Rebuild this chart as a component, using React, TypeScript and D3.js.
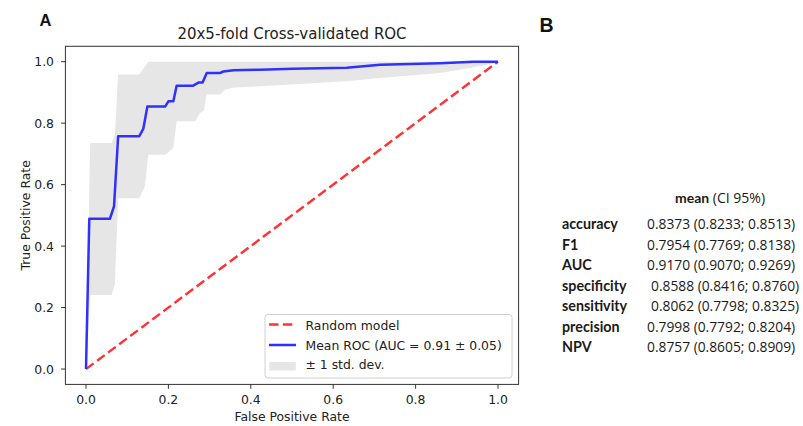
import React from "react";
import * as d3 from "d3";

// ---------- data ----------
const meanFpr = [0, 0.008, 0.058, 0.068, 0.078, 0.129, 0.139, 0.149, 0.192, 0.2, 0.212, 0.22, 0.26, 0.273, 0.283, 0.293, 0.325, 0.333, 0.358, 0.422, 0.503, 0.633, 0.714, 0.859, 0.94, 1.0];
const meanTpr = [0, 0.489, 0.489, 0.529, 0.757, 0.757, 0.781, 0.854, 0.854, 0.871, 0.871, 0.922, 0.922, 0.932, 0.932, 0.963, 0.963, 0.968, 0.972, 0.974, 0.977, 0.98, 0.99, 0.995, 1.0, 1.0];

const upperFpr = [0, 0.01, 0.062, 0.07, 0.078, 0.129, 0.151, 1.0];
const upperTpr = [0, 0.735, 0.735, 0.76, 0.958, 0.958, 1.0, 1.0];

const lowerFpr = [0, 0.01, 0.062, 0.07, 0.078, 0.129, 0.143, 0.151, 0.192, 0.212, 0.22, 0.265, 0.277, 0.286, 0.293, 0.325, 0.337, 0.358, 0.422, 0.633, 0.714, 0.859, 0.932, 0.989, 1.0];
const lowerTpr = [0, 0.241, 0.241, 0.274, 0.556, 0.556, 0.594, 0.697, 0.697, 0.719, 0.806, 0.806, 0.833, 0.84, 0.893, 0.893, 0.909, 0.916, 0.92, 0.936, 0.947, 0.963, 0.979, 0.995, 1.0];

const tickValues = [0, 0.2, 0.4, 0.6, 0.8, 1.0];

const chartTitle = "20x5-fold Cross-validated ROC";
const legendLabels = ["Random model", "Mean ROC (AUC = 0.91 \u00b1 0.05)", "\u00b1 1 std. dev."];

const metricNames = ["accuracy", "F1", "AUC", "specificity", "sensitivity", "precision", "NPV"];
const metricMean = ["0.8373", "0.7954", "0.9170", "0.8588", "0.8062", "0.7998", "0.8757"];
const metricLow = ["0.8233", "0.7769", "0.9070", "0.8416", "0.7798", "0.7792", "0.8605"];
const metricHigh = ["0.8513", "0.8138", "0.9269", "0.8760", "0.8325", "0.8204", "0.8909"];
const valueIndent = [0, 0, 0, 4, 4, 0, 0];

// ---------- layout ----------
const W = 803;
const H = 426;
const x = d3.scaleLinear().domain([-0.05, 1.05]).range([65.4, 518.6]);
const y = d3.scaleLinear().domain([-0.05, 1.05]).range([384.4, 46.3]);

const SANS = "'DejaVu Sans', sans-serif";
const TABLE_BOLD = "Lato, 'Open Sans', sans-serif";
const TABLE = "'Open Sans', Lato, sans-serif";

export default function App() {
  const line = d3
    .line<[number, number]>()
    .x((d) => x(d[0]))
    .y((d) => y(d[1]));

  const meanPts = meanFpr.map((f, i) => [f, meanTpr[i]] as [number, number]);
  const upperPts = upperFpr.map((f, i) => [f, upperTpr[i]] as [number, number]);
  const lowerPts = lowerFpr.map((f, i) => [f, lowerTpr[i]] as [number, number]).reverse();
  const bandPath = line([...upperPts, ...lowerPts]) + "Z";

  const [x0, x1] = x.range();
  const [yb, yt] = y.range();

  const legX = 265;
  const legY = 314.5;

  const tableLabelX = 562;
  const tableValueX = 647;
  const rowBase = 229;
  const rowStep = 20.5;

  return (
    <svg
      width={W}
      height={H}
      style={{ position: "absolute", left: 0, top: 0, background: "#fff" }}
      xmlns="http://www.w3.org/2000/svg"
    >
      <rect x={0} y={0} width={W} height={H} fill="#fff" />
      {/* panel letters */}
      <text x={39.5} y={25.7} fontFamily="'Liberation Sans', Arial, sans-serif" fontWeight="bold" fontSize={16.5} fill="#111">A</text>
      <text x={539.5} y={32.3} fontFamily="'Liberation Sans', Arial, sans-serif" fontWeight="bold" fontSize={19.5} fill="#111">B</text>

      {/* title */}
      <text x={(x0 + x1) / 2} y={39} textAnchor="middle" fontFamily={SANS} fontSize={15} fill="#222">{chartTitle}</text>

      {/* std band */}
      <path d={bandPath} fill="#e6e6e6" stroke="none" />

      {/* random model diagonal */}
      <line x1={x(0)} y1={y(0)} x2={x(1)} y2={y(1)} stroke="#ff3333" strokeWidth={2.4} strokeDasharray="9.5 4.3" />

      {/* mean ROC */}
      <path d={line(meanPts) || ""} fill="none" stroke="#3030ff" strokeWidth={2.5} strokeLinejoin="round" />

      {/* frame */}
      <rect x={x0} y={yt} width={x1 - x0} height={yb - yt} fill="none" stroke="#333" strokeWidth={1} />

      {/* x axis */}
      {tickValues.map((t) => (
        <g key={"x" + t}>
          <line x1={x(t)} x2={x(t)} y1={yb} y2={yb + 4.3} stroke="#333" strokeWidth={1} />
          <text x={x(t)} y={404} textAnchor="middle" fontFamily={SANS} fontSize={12.4} fill="#222">{t.toFixed(1)}</text>
        </g>
      ))}
      <text x={(x0 + x1) / 2} y={420.5} textAnchor="middle" fontFamily={SANS} fontSize={12.4} fill="#222">False Positive Rate</text>

      {/* y axis */}
      {tickValues.map((t) => (
        <g key={"y" + t}>
          <line x1={x0 - 4.3} x2={x0} y1={y(t)} y2={y(t)} stroke="#333" strokeWidth={1} />
          <text x={54} y={y(t) + 4.5} textAnchor="end" fontFamily={SANS} fontSize={12.4} fill="#222">{t.toFixed(1)}</text>
        </g>
      ))}
      <text
        transform={`translate(29.5, ${(yb + yt) / 2}) rotate(-90)`}
        textAnchor="middle"
        fontFamily={SANS}
        fontSize={12.4}
        fill="#222"
      >
        True Positive Rate
      </text>

      {/* legend */}
      <rect x={legX} y={legY} width={247} height={63.5} rx={3} fill="#fff" fillOpacity={0.85} stroke="#d0d0d0" strokeWidth={1} />
      <line x1={269} x2={296} y1={324.5} y2={324.5} stroke="#ff3333" strokeWidth={2.4} strokeDasharray="9.5 4.3" />
      <text x={305.5} y={330} fontFamily={SANS} fontSize={12.4} fill="#222">{legendLabels[0]}</text>
      <line x1={269} x2={296} y1={345} y2={345} stroke="#3030ff" strokeWidth={2.5} />
      <text x={305.5} y={349.6} fontFamily={SANS} fontSize={12.4} fill="#222">{legendLabels[1]}</text>
      <rect x={269.3} y={362} width={26.5} height={8.5} fill="#e6e6e6" />
      <text x={305.5} y={369.3} fontFamily={SANS} fontSize={12.4} fill="#222">{legendLabels[2]}</text>

      {/* table */}
      <text x={675} y={203.3} fontSize={14} fill="#1a1a1a">
        <tspan fontFamily={TABLE_BOLD} fontWeight="bold">mean</tspan>
        <tspan fontFamily={TABLE}> (CI 95%)</tspan>
      </text>
      {metricNames.map((m, i) => (
        <g key={m}>
          <text x={tableLabelX} y={rowBase + i * rowStep} fontFamily={TABLE_BOLD} fontWeight="bold" fontSize={14.3} fill="#1a1a1a">{m}</text>
          <text x={tableValueX + valueIndent[i]} y={rowBase + i * rowStep} fontFamily={TABLE} fontSize={13.8} fill="#1a1a1a">
            {`${metricMean[i]} (${metricLow[i]}; ${metricHigh[i]})`}
          </text>
        </g>
      ))}
    </svg>
  );
}
